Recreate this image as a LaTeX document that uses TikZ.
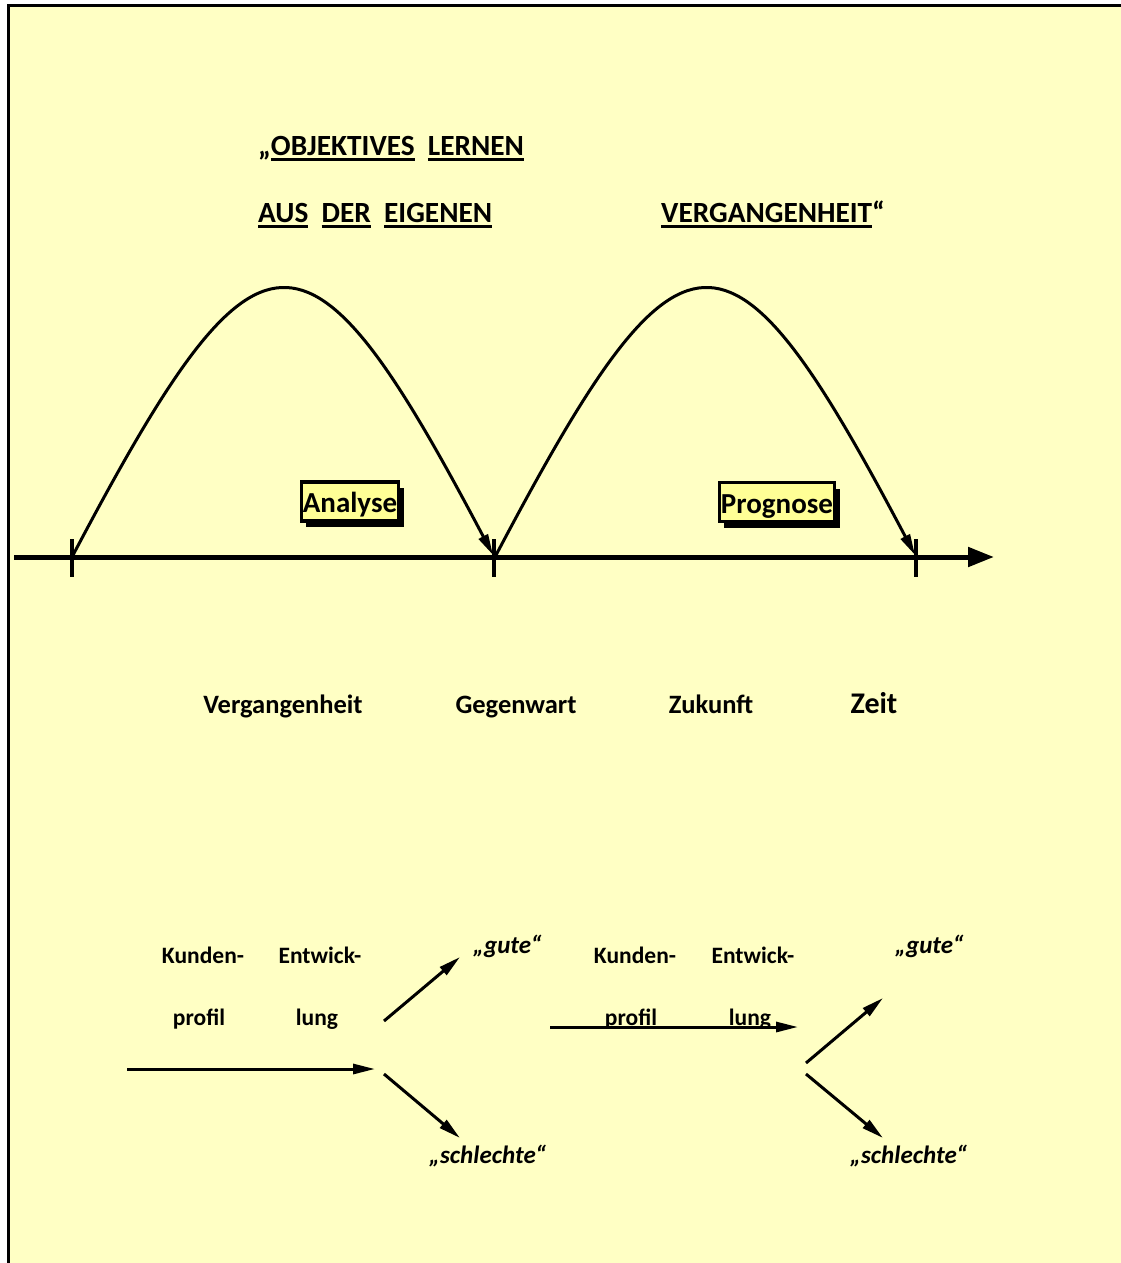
\documentclass[tikz,border=0pt]{standalone}
\usepackage{fontspec}
\setmainfont{Carlito}
\usetikzlibrary{arrows.meta, shadows, calc}
\definecolor{paperyellow}{RGB}{255,255,196}
\definecolor{boxyellow}{RGB}{255,255,150}
% underline one word only
\newcommand{\wordline}[1]{\setbox0=\hbox{#1}\rlap{\rule[-5.5pt]{\wd0}{2.8pt}}\box0}
\tikzset{
  heading/.style={
    anchor=base west, inner sep=0pt,
    font=\fontsize{29.3}{34}\selectfont\bfseries
  },
  infobox/.style={
    rectangle, draw=black, line width=3.5pt, fill=boxyellow,
    inner xsep=1.5pt, inner ysep=0pt, minimum height=39pt,
    text height=22pt, text depth=0pt,
    font=\fontsize{29}{33}\selectfont\bfseries,
    drop shadow={shadow xshift=5pt, shadow yshift=-6pt,
                 fill=black, opacity=1}
  },
  timelabel/.style={
    anchor=base, inner sep=0pt,
    font=\fontsize{26.5}{30}\selectfont\bfseries
  },
  steplabel/.style={
    anchor=base, inner sep=0pt,
    font=\fontsize{23.5}{27}\selectfont\bfseries
  },
  verdict/.style={
    anchor=base west, inner sep=0pt,
    font=\fontsize{25}{29}\selectfont\bfseries\itshape
  },
  arch/.style={line width=3pt, -{Triangle[length=21pt, width=10pt]}},
  timeline/.style={line width=5pt, -{Triangle[length=26pt, width=19pt]}},
  tickmark/.style={line width=4pt},
  branch/.style={line width=3pt, -{Triangle[length=22pt, width=10pt]}}
}

\begin{document}
\begin{tikzpicture}[x=1pt, y=-1pt]

% ═══════════════════════════════════════════════════════════════════
% PAPER AND FRAME
% ═══════════════════════════════════════════════════════════════════
\useasboundingbox (0,0) rectangle (1121,1263);
\fill[white] (0,0) rectangle (1121,1263);
\fill[paperyellow] (8,6) rectangle (1121,1263);
\draw[line width=3pt] (8,1263) -- (8,6) -- (1121,6);

% ═══════════════════════════════════════════════════════════════════
% HEADING
% ═══════════════════════════════════════════════════════════════════
\node[heading] (head1) at (258,155)
  {„\wordline{OBJEKTIVES}\ \ \wordline{LERNEN}};
\node[heading] (head2) at (258,222)
  {\wordline{AUS}\ \ \wordline{DER}\ \ \wordline{EIGENEN}};
\node[heading] (head3) at (661,222)
  {\wordline{VERGANGENHEIT}“};

% ═══════════════════════════════════════════════════════════════════
% TIME AXIS
% ═══════════════════════════════════════════════════════════════════
\coordinate (axstart) at (14,557);
\coordinate (axend)   at (994,557);
\coordinate (past)    at (72,557);
\coordinate (now)     at (494,557);
\coordinate (future)  at (916,557);

\draw[timeline] (axstart) -- (axend);
\foreach \t in {past, now, future}
  \draw[tickmark] ($(\t)+(0,-18)$) -- ($(\t)+(0,20)$);

% ── the two arches ───────────────────────────────────────────────
\draw[arch] (past)
  .. controls +(187,-355) and +(-187,-355) .. ($(now)+(-1,-2)$);
\draw[arch] ($(now)+(1,0)$)
  .. controls +(187,-355) and +(-187,-355) .. ($(future)+(-1,-2)$);

\node[infobox] (analyse)  at (350,501.5) {Analyse};
\node[infobox] (prognose) at (777,502)   {Prognose};

% ── axis labels ──────────────────────────────────────────────────
\node[timelabel] (lblpast)   at (283,713) {Vergangenheit};
\node[timelabel] (lblnow)    at (516,713) {Gegenwart};
\node[timelabel] (lblfuture) at (711,713) {Zukunft};
\node[timelabel, font=\fontsize{30}{34}\selectfont\bfseries]
  (lbltime) at (874,713) {Zeit};

% ═══════════════════════════════════════════════════════════════════
% CUSTOMER PROFILE DEVELOPMENT -- LEFT
% ═══════════════════════════════════════════════════════════════════
\node[steplabel] (kunde1)  at (203,963)  {Kunden-};
\node[steplabel] (entw1)   at (320,963)  {Entwick-};
\node[steplabel] (profil1) at (199,1025) {profil};
\node[steplabel] (lung1)   at (317,1025) {lung};

\coordinate (flowin1)  at (127,1069);
\coordinate (flowout1) at (375,1069);
\coordinate (forkup1)  at (384,1021);
\coordinate (forkdn1)  at (384,1074);
\coordinate (goodtip1) at (460,957);
\coordinate (badtip1)  at (460,1138);

\draw[branch] (flowin1) -- (flowout1);
\draw[branch] (forkup1) -- (goodtip1);
\draw[branch] (forkdn1) -- (badtip1);

\node[verdict] (good1) at (473,953)  {„gute“};
\node[verdict] (bad1)  at (429,1163) {„schlechte“};

% ═══════════════════════════════════════════════════════════════════
% CUSTOMER PROFILE DEVELOPMENT -- RIGHT
% ═══════════════════════════════════════════════════════════════════
\node[steplabel] (kunde2)  at (635,963)  {Kunden-};
\node[steplabel] (entw2)   at (753,963)  {Entwick-};
\node[steplabel] (profil2) at (631,1025) {profil};
\node[steplabel] (lung2)   at (750,1025) {lung};

\coordinate (flowin2)  at (550,1027);
\coordinate (flowout2) at (798,1027);
\coordinate (forkup2)  at (806,1063);
\coordinate (forkdn2)  at (806,1074);
\coordinate (goodtip2) at (883,998);
\coordinate (badtip2)  at (883,1138);

\draw[branch] (flowin2) -- (flowout2);
\draw[branch] (forkup2) -- (goodtip2);
\draw[branch] (forkdn2) -- (badtip2);

\node[verdict] (good2) at (895,953)  {„gute“};
\node[verdict] (bad2)  at (850,1163) {„schlechte“};

\end{tikzpicture}
\end{document}
